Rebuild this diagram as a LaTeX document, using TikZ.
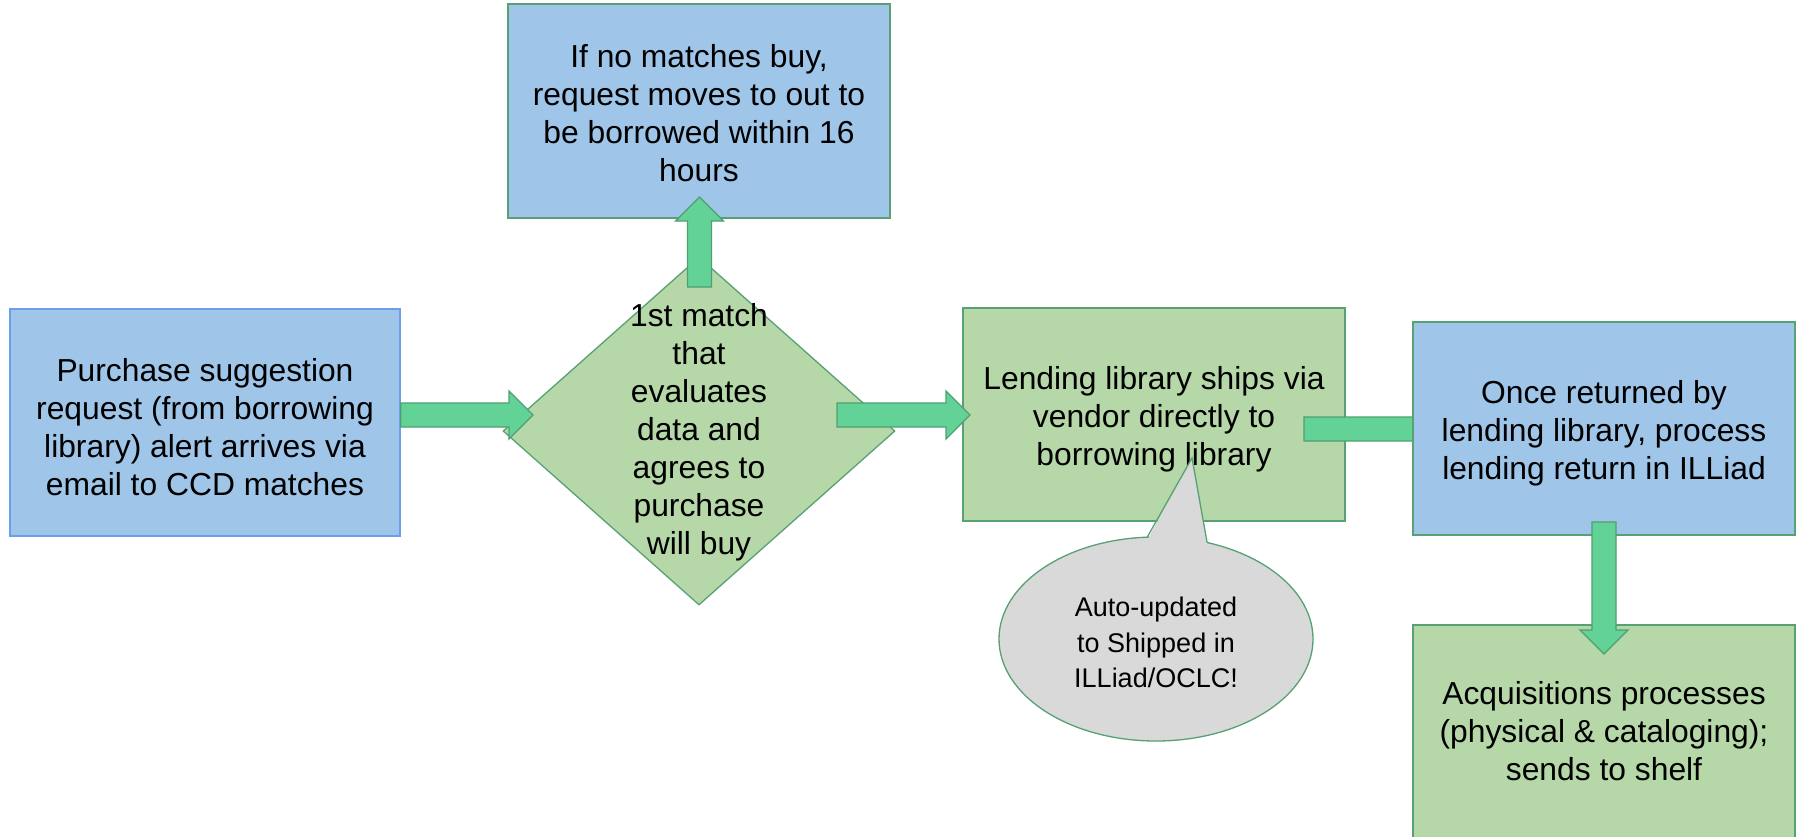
\documentclass[tikz,border=0pt]{standalone}
\usepackage{fontspec}
\setmainfont{Liberation Sans}
\usetikzlibrary{shapes.geometric,calc}
\definecolor{boxblue}{HTML}{9FC5E8}
\definecolor{boxgreen}{HTML}{B6D7A8}
\definecolor{arrowgreen}{HTML}{63D297}
\definecolor{arrowborder}{HTML}{4EA072}
\definecolor{bordgreen}{HTML}{57A174}
\definecolor{bordblue}{HTML}{6D9EEB}
\definecolor{callgray}{HTML}{D9D9D9}
\newcommand\bigtxt{\fontsize{31.8}{38}\selectfont}
\newcommand\smalltxt{\fontsize{27}{35.5}\selectfont}
\tikzset{
  box/.style={rectangle, draw=bordgreen, line width=1.3pt, inner sep=0pt,
    minimum width=382pt, minimum height=213pt},
  bluebox/.style={box, fill=boxblue},
  greenbox/.style={box, fill=boxgreen},
  txt/.style={align=center, inner sep=0pt, font=\bigtxt, text=black},
  smalltext/.style={align=center, inner sep=0pt, font=\smalltxt, text=black},
  barrow/.style={fill=arrowgreen, draw=arrowborder, line width=1.3pt, line join=miter},
}
\newcommand\harr[2]{\draw[barrow] let \p1=(#1), \p2=(#2) in
  (\x1,\y1+12pt) -- (\x2-24pt,\y1+12pt) -- (\x2-24pt,\y1+24pt) -- (\x2,\y1) --
  (\x2-24pt,\y1-24pt) -- (\x2-24pt,\y1-12pt) -- (\x1,\y1-12pt) -- cycle;}
\newcommand\uarr[2]{\draw[barrow] let \p1=(#1), \p2=(#2) in
  (\x1-12pt,\y1) -- (\x1-12pt,\y2-24pt) -- (\x1-24pt,\y2-24pt) -- (\x1,\y2) --
  (\x1+24pt,\y2-24pt) -- (\x1+12pt,\y2-24pt) -- (\x1+12pt,\y1) -- cycle;}
\newcommand\darr[2]{\draw[barrow] let \p1=(#1), \p2=(#2) in
  (\x1-12pt,\y1) -- (\x1-12pt,\y2+24pt) -- (\x1-24pt,\y2+24pt) -- (\x1,\y2) --
  (\x1+24pt,\y2+24pt) -- (\x1+12pt,\y2+24pt) -- (\x1+12pt,\y1) -- cycle;}
\begin{document}
\begin{tikzpicture}[x={(1pt,0)}, y={(0,-1pt)}]
\useasboundingbox (0,0) rectangle (1801,836);
\fill[white] (0,0) rectangle (1801,836);
\clip (0,0) rectangle (1801,836);

% boxes
\node[bluebox, draw=bordblue, minimum width=390pt, minimum height=227pt] (b1) at (205,422.5) {};
\node[txt] (b1t) at (205,427) {Purchase suggestion\\request (from borrowing\\library) alert arrives via\\email to CCD matches};

\node[bluebox, minimum height=214pt] (top) at (699,111) {};
\node[txt] (topt) at (699,113) {If no matches buy,\\request moves to out to\\be borrowed within 16\\hours};

\node[diamond, draw=bordgreen, fill=boxgreen, line width=1.3pt, inner sep=0pt,
  minimum width=392pt, minimum height=348pt] (dia) at (699,431) {};

\node[greenbox] (lend) at (1154,414.5) {};
\node[txt] (lendt) at (1154,419) {Lending library ships via\\vendor directly to\\borrowing library};

\node[txt] (diat) at (699,432) {1st match\\that\\evaluates\\data and\\agrees to\\purchase\\will buy};

% arrows
\coordinate (a1e) at (533,415);
\harr{b1.east |- a1e}{a1e}
\coordinate (a2s) at (699.5,287);
\coordinate (a2e) at (699.5,197);
\uarr{a2s}{a2e}
\coordinate (a3s) at (837,415);
\coordinate (a3e) at (970,415);
\harr{a3s}{a3e}
\coordinate (a4s) at (1304,429);
\coordinate (a4e) at (1445,429);
\harr{a4s}{a4e}

\node[bluebox] (once) at (1604,428.5) {};
\node[txt] (oncet) at (1604,433) {Once returned by\\lending library, process\\lending return in ILLiad};

\node[greenbox] (acq) at (1604,731.5) {};
\node[txt] (acqt) at (1604,731) {Acquisitions processes\\(physical \& cataloging);\\sends to shelf};

\coordinate (a5s) at (1604,522);
\coordinate (a5e) at (1604,654);
\darr{a5s}{a5e}

% callout
\node[ellipse, draw=bordgreen, fill=callgray, line width=1.3pt, inner sep=0pt,
  minimum width=314pt, minimum height=204pt] (call) at (1156,639) {};
\coordinate (ctip) at (1192,458);
\coordinate (cbl) at (1147,537.5);
\coordinate (cbr) at (1207,542);
\fill[callgray] (ctip) -- ($(cbl)+(0,3)$) -- ($(cbr)+(0,3)$) -- cycle;
\draw[bordgreen, line width=1.3pt, line join=miter] (cbl) -- (ctip) -- (cbr);
\node[smalltext] (callt) at (1156,642.5) {Auto-updated\\to Shipped in\\ILLiad/OCLC!};
\end{tikzpicture}
\end{document}
